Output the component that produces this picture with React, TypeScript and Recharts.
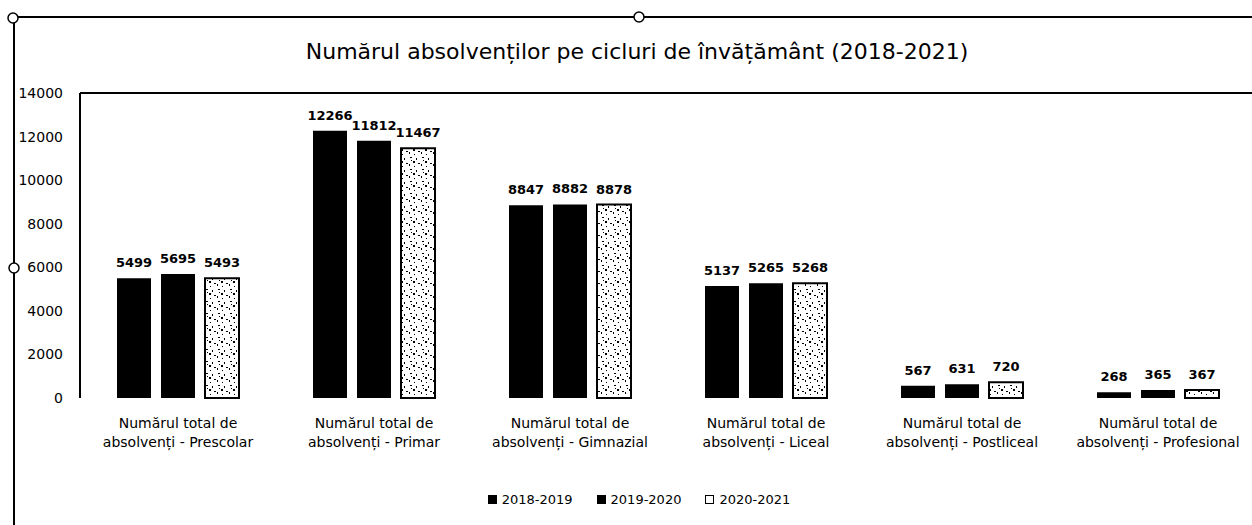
import React from 'react';
import { BarChart, Bar, XAxis, YAxis, LabelList, Legend, ReferenceLine } from 'recharts';

const categories = [
  'Numărul total de absolvenți - Prescolar',
  'Numărul total de absolvenți - Primar',
  'Numărul total de absolvenți - Gimnazial',
  'Numărul total de absolvenți - Liceal',
  'Numărul total de absolvenți - Postliceal',
  'Numărul total de absolvenți - Profesional',
];
const values2018 = [5499, 12266, 8847, 5137, 567, 268];
const values2019 = [5695, 11812, 8882, 5265, 631, 365];
const values2020 = [5493, 11467, 8878, 5268, 720, 367];
const yTicks = [0, 2000, 4000, 6000, 8000, 10000, 12000, 14000];
const seriesNames = ['2018-2019', '2019-2020', '2020-2021'];
const title = 'Numărul absolvenților pe cicluri de învățământ (2018-2021)';

const data = categories.map((c, i) => ({
  name: c,
  a: values2018[i],
  b: values2019[i],
  c: values2020[i],
}));

const FONT = '"DejaVu Sans", sans-serif';

const XTick = (props: any) => {
  const { x, y, payload } = props;
  const s = String(payload.value);
  const idx = s.indexOf(' de ') + 3;
  const l1 = s.slice(0, idx);
  const l2 = s.slice(idx + 1);
  return (
    <g>
      <text x={x} y={y + 30} textAnchor="middle" fontFamily={FONT} fontSize={14} fill="#000">{l1}</text>
      <text x={x} y={y + 49} textAnchor="middle" fontFamily={FONT} fontSize={14} fill="#000">{l2}</text>
    </g>
  );
};

const LegendContent = (props: any) => {
  const { payload } = props;
  return (
    <div style={{ display: 'flex', justifyContent: 'center', alignItems: 'center', height: 30, fontFamily: FONT, fontSize: 13, color: '#000' }}>
      {(payload || []).map((p: any, i: number) => (
        <div key={i} style={{ display: 'flex', alignItems: 'center', marginRight: i < 2 ? 24 : 0 }}>
          <span style={{ display: 'inline-block', width: i === 2 ? 7 : 9, height: i === 2 ? 7 : 9, background: i === 2 ? '#fff' : '#000', border: i === 2 ? '1px solid #000' : 'none', marginRight: 5 }} />
          <span>{p.value}</span>
        </div>
      ))}
    </div>
  );
};

const labelStyle = { fontFamily: FONT, fontSize: 13, fontWeight: 700, fill: '#000' } as any;

export default function App() {
  return (
    <div style={{ position: 'absolute', left: 0, top: 0, width: 1252, height: 525, overflow: 'hidden', background: '#fff' }}>
      <BarChart width={1256} height={525} data={data} margin={{ top: 93, right: 0, bottom: 11, left: 14 }} barGap={10}>
        <defs>
          <pattern id="speckle" width="12" height="12" patternUnits="userSpaceOnUse">
            <rect x="0" y="0" width="12" height="12" fill="#fff" />
            <rect x="2" y="1" width="2" height="1" fill="#000" />
            <rect x="8" y="2" width="1" height="2" fill="#000" />
            <rect x="5" y="5" width="2" height="2" fill="#000" />
            <rect x="10" y="7" width="2" height="1" fill="#000" />
            <rect x="1" y="8" width="1" height="2" fill="#000" />
            <rect x="6" y="10" width="1" height="1" fill="#000" />
            <rect x="3" y="4" width="1" height="1" fill="#000" />
          </pattern>
        </defs>
        <XAxis dataKey="name" axisLine={false} tickLine={false} tickSize={0} tickMargin={0} height={86} interval={0} tick={<XTick />} />
        <YAxis width={66} domain={[0, 14000]} ticks={yTicks} interval={0} axisLine={{ stroke: '#000', strokeWidth: 2 }} tickLine={false} tickSize={0} tickMargin={17}
          tick={{ fontFamily: FONT, fontSize: 14, fill: '#000' }} />
        <ReferenceLine y={14000} stroke="#000" strokeWidth={2} />
        <Legend verticalAlign="bottom" height={30} content={<LegendContent />} wrapperStyle={{ left: 0, width: 1278 }} />
        <Bar dataKey="a" name={seriesNames[0]} fill="#000" barSize={34} isAnimationActive={false}>
          <LabelList dataKey="a" position="top" offset={11} style={labelStyle} />
        </Bar>
        <Bar dataKey="b" name={seriesNames[1]} fill="#000" barSize={34} isAnimationActive={false}>
          <LabelList dataKey="b" position="top" offset={11} style={labelStyle} />
        </Bar>
        <Bar dataKey="c" name={seriesNames[2]} fill="url(#speckle)" stroke="#000" strokeWidth={2} barSize={34} isAnimationActive={false}>
          <LabelList dataKey="c" position="top" offset={11} style={labelStyle} />
        </Bar>
      </BarChart>
      <svg width={1252} height={525} style={{ position: 'absolute', left: 0, top: 0, pointerEvents: 'none' }}>
        <text x={637} y={59} textAnchor="middle" fontFamily={FONT} fontSize={22} fill="#000">{title}</text>
        <line x1={14} y1={17} x2={1252} y2={17} stroke="#000" strokeWidth={2} />
        <line x1={14} y1={17} x2={14} y2={525} stroke="#000" strokeWidth={2} />
        <circle cx={13} cy={18} r={5} fill="#fff" stroke="#000" strokeWidth={1.5} />
        <circle cx={639} cy={17} r={5} fill="#fff" stroke="#000" strokeWidth={1.5} />
        <circle cx={14} cy={268} r={5} fill="#fff" stroke="#000" strokeWidth={1.5} />
      </svg>
    </div>
  );
}
